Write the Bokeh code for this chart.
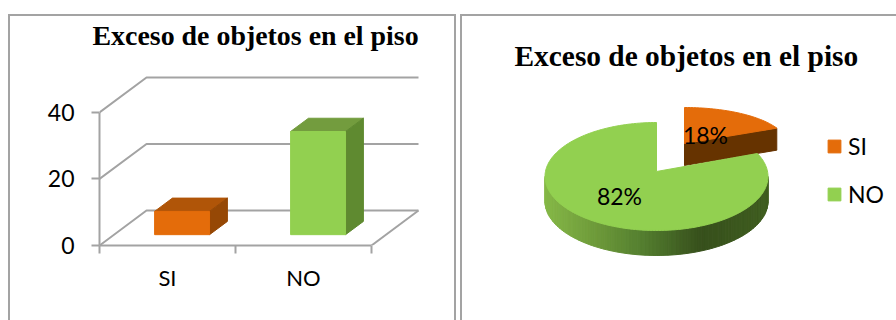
import numpy as np
from bokeh.core.properties import value
from bokeh.embed import file_html
from bokeh.layouts import column, row
from bokeh.models import (FixedTicker, Legend, LegendItem,
                          LinearAxis, Range1d, Title)
from bokeh.plotting import figure
from bokeh.resources import INLINE

TITLE = "Exceso de objetos en el piso"
categories = ["SI", "NO"]
bar_values = [7, 31]
y_ticks = [0, 20, 40]
pie_shares = [18, 82]

ORANGE = dict(front="#E46C0A", top="#B05508", side="#964805")
GREEN = dict(front="#92D050", top="#739C3E", side="#5F8A30")
GREY = "#A3A3A3"
SANS = "Lato"
SERIF = "Liberation Serif"

# 3-D projection of the column chart, in data units
DX, DY = 0.3456, 10.5
D0, D1 = 0.31, 0.69
BAR_W = 0.404


def css_lines(*boxes):
    grad = f"linear-gradient({GREY},{GREY})"
    return ", ".join(f"{grad} {x}px {y}px / {w}px {h}px no-repeat" for x, y, w, h in boxes)


# ---------------- left: 3-D columns ----------------
p1 = figure(width=456, height=320, output_backend="svg", toolbar_location=None,
            x_range=Range1d(0, 2.625), y_range=Range1d(0, 57.7),
            x_axis_type=None, y_axis_type=None,
            min_border_left=99, min_border_right=0, min_border_top=53,
            min_border_bottom=75, outline_line_color=None,
            border_fill_alpha=0, background_fill_alpha=0)
p1.styles = {"background": css_lines((8, 14, 448, 2), (8, 14, 2, 306), (454, 14, 2, 306))}
p1.grid.visible = False

p1.add_layout(Title(text=TITLE, text_font=SERIF, text_font_size="27.9px",
                    text_font_style="bold", text_color="#000000",
                    align="left", offset=-7, standoff=5), "above")

for v in y_ticks:
    p1.line([0, DX, DX + 2], [v, v + DY, v + DY], line_color=GREY, line_width=2)
p1.line([2, 2 + DX], [0, DY], line_color=GREY, line_width=2)

for i, (v, c) in enumerate(zip(bar_values, (ORANGE, GREEN))):
    x0 = i + 0.5 - BAR_W / 2 + D0 * DX
    x1 = x0 + BAR_W
    y0 = D0 * DY
    y1 = y0 + v
    sx = (D1 - D0) * DX
    sy = (D1 - D0) * DY
    p1.patch([x0, x1, x1 + sx, x0 + sx], [y1, y1, y1 + sy, y1 + sy],
             fill_color=c["top"], line_color=c["top"])
    p1.patch([x1, x1 + sx, x1 + sx, x1], [y0, y0 + sy, y1 + sy, y1],
             fill_color=c["side"], line_color=c["side"])
    p1.quad(left=x0, right=x1, bottom=y0, top=y1,
            fill_color=c["front"], line_color=c["front"])

yax = LinearAxis(ticker=FixedTicker(ticks=y_ticks), bounds=(0, 40),
                 axis_line_color=GREY, axis_line_width=2,
                 major_tick_line_color=GREY, major_tick_line_width=2,
                 major_tick_in=0, major_tick_out=8, minor_tick_out=0, minor_tick_in=0,
                 major_label_text_font=SANS, major_label_text_font_size="23px",
                 major_label_text_color="#000000", major_label_standoff=17)
p1.add_layout(yax, "left")

xax = LinearAxis(ticker=FixedTicker(ticks=[0.5, 1.5], minor_ticks=[0, 1, 2]),
                 major_label_overrides={0.5: categories[0], 1.5: categories[1]},
                 bounds=(0, 2), axis_line_color=GREY, axis_line_width=2,
                 major_tick_in=0, major_tick_out=0,
                 minor_tick_line_color=GREY, minor_tick_line_width=2,
                 minor_tick_in=0, minor_tick_out=8,
                 major_label_text_font=SANS, major_label_text_font_size="22px",
                 major_label_text_color="#000000", major_label_standoff=10)
p1.add_layout(xax, "below")

# ---------------- right: exploded 3-D pie ----------------
p2 = figure(width=436, height=320, output_backend="svg", toolbar_location=None,
            x_range=Range1d(-196, 240), y_range=Range1d(-144, 96),
            x_axis_type=None, y_axis_type=None,
            min_border_left=0, min_border_right=0, min_border_top=80,
            min_border_bottom=0, outline_line_color=None,
            border_fill_alpha=0, background_fill_alpha=0)
p2.styles = {"background": css_lines((0, 14, 436, 2), (0, 14, 2, 306))}
p2.grid.visible = False

p2.add_layout(Title(text=TITLE, text_font=SERIF, text_font_size="29.4px",
                    text_font_style="bold", text_color="#000000",
                    align="left", offset=54, standoff=17), "above")

si_share, no_share = pie_shares
si_sweep = 360 * si_share / sum(pie_shares)
no_sweep = 360 * no_share / sum(pie_shares)

# orange slice (exploded)
OX, OY, ORX, ORY, OD = 28, 33, 102, 36, 22
t = np.radians(np.linspace(90, 90 - si_sweep, 40))
ax, ay = OX + ORX * np.cos(t), OY + ORY * np.sin(t)
p2.patch([OX, ax[-1], ax[-1], OX], [OY, ay[-1], ay[-1] - OD, OY - OD],
         fill_color="#663300", line_color="#663300")
si_r = p2.patch(np.r_[OX, ax], np.r_[OY, ay], fill_color="#E46C0A", line_color="#E46C0A")

# green slice
RX, RY, GD = 111.5, 54, 25
APEX = 5
stops_x = [-112, -60, -15, 45, 112]
stops = np.array([[0x86, 0xB9, 0x48], [0x6E, 0x9A, 0x3A], [0x55, 0x80, 0x30],
                  [0x37, 0x50, 0x1C], [0x40, 0x5E, 0x20]], dtype=float)
w = np.radians(np.linspace(180, 360, 91))
for a, b in zip(w[:-1], w[1:]):
    xa, xb = RX * np.cos(a), RX * np.cos(b)
    ya, yb = RY * np.sin(a), RY * np.sin(b)
    mid = (xa + xb) / 2
    col = [int(np.interp(mid, stops_x, stops[:, k])) for k in range(3)]
    hexc = "#%02X%02X%02X" % tuple(col)
    p2.patch([xa, xb, xb, xa], [ya, yb, yb - GD, ya - GD],
             fill_color=hexc, line_color=hexc, line_width=1)
t = np.radians(np.linspace(90, 90 + no_sweep, 200))
gx, gy = RX * np.cos(t), RY * np.sin(t)
no_r = p2.patch(np.r_[0, gx], np.r_[APEX, gy], fill_color="#92D050", line_color="#92D050")

p2.text([OX + 21, -37], [OY + 9, -19], text=[f"{si_share}%", f"{no_share}%"],
        text_font=value(SANS), text_font_size=value("23px"), text_color="#000000",
        text_align="center", text_baseline="middle")

legend = Legend(items=[LegendItem(label=categories[0], renderers=[si_r]),
                       LegendItem(label=categories[1], renderers=[no_r])],
                location=(366, 112), orientation="vertical",
                glyph_width=16, glyph_height=16, spacing=20, padding=0, margin=0,
                label_standoff=6, label_text_font=SANS, label_text_font_size="23px",
                label_text_color="#000000", border_line_color=None,
                background_fill_alpha=0)
p2.add_layout(legend, "center")

open("out.html", "w").write(file_html(row(column(p1), column(p2), spacing=4), INLINE))
